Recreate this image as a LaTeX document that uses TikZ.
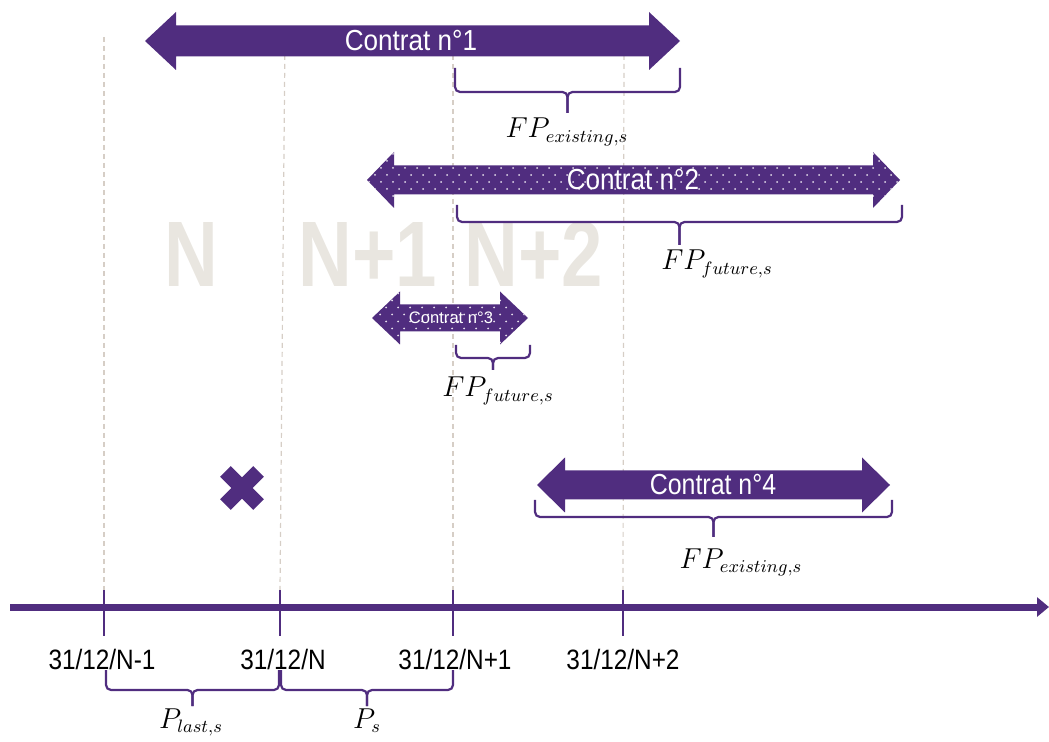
\documentclass[tikz,border=0pt]{standalone}
\usepackage{fontspec}
\setmainfont{Liberation Sans}
\usetikzlibrary{arrows.meta}

\definecolor{ctpurple}{RGB}{80,45,127}
\definecolor{gridgrey}{RGB}{214,206,198}
\definecolor{yeargrey}{RGB}{233,230,224}
\colorlet{dotwhite}{white!85!ctpurple}

% outline of a two-headed bar: x1, x2, y centre, half shaft, half head, head length
\newcommand\barpath[6]{(#1,#3) -- (#1+#6,#3-#5) -- (#1+#6,#3-#4) -- (#2-#6,#3-#4)
  -- (#2-#6,#3-#5) -- (#2,#3) -- (#2-#6,#3+#5) -- (#2-#6,#3+#4)
  -- (#1+#6,#3+#4) -- (#1+#6,#3+#5) -- cycle}

% dotted version of the bar
\newcommand\dottedbar[6]{%
  \fill[ctpurple] \barpath{#1}{#2}{#3}{#4}{#5}{#6};
  \begin{scope}
    \clip \barpath{#1}{#2}{#3}{#4}{#5}{#6};
    \foreach \r in {0,...,9}
      \foreach \c in {0,...,46}
        \fill[dotwhite] ({#1+2+\c*12+6*mod(\r,2)}, {#3-#5+2+\r*7}) circle[radius=0.5pt];
  \end{scope}}

% square bracket with a centre tip: x1, x2, top, line, tip
\newcommand\spanbrace[5]{%
  \draw[bracket] (#1,#3) |- ({(#1+#2)/2},#4) -- ({(#1+#2)/2},#5);
  \draw[bracket] (#2,#3) |- ({(#1+#2)/2},#4) -- ({(#1+#2)/2},#5);}

\tikzset{
  guide/.style={draw=gridgrey, line width=0.6pt, dash pattern=on 2.5pt off 2pt},
  tickmark/.style={draw=ctpurple, line width=1pt},
  bracket/.style={draw=ctpurple, line width=1.1pt, rounded corners=2.5pt},
  barlabel/.style={text=white, font=\fontsize{14.5}{15}\selectfont, inner sep=0pt},
  smallbarlabel/.style={text=white, font=\fontsize{8.3}{9}\selectfont, inner sep=0pt},
  datelabel/.style={font=\fontsize{14}{14}\selectfont, anchor=base, inner sep=0pt},
  mathlabel/.style={font=\fontsize{13.5}{14}\selectfont, anchor=base, inner sep=0pt},
  yearlabel/.style={text=yeargrey, font=\fontsize{46.5}{46}\selectfont\bfseries, anchor=base, inner sep=0pt},
}

\begin{document}
\begin{tikzpicture}[x=0.5pt, y=-0.5pt]
\useasboundingbox (0,0) rectangle (1049,742);

% year boundaries on the time axis
\coordinate (d0) at (104,607);
\coordinate (d1) at (280,607);
\coordinate (d2) at (453,607);
\coordinate (d3) at (623,607);

% dashed guides
\draw[guide] (104,37) -- (104,590);
\draw[guide] (285,37) -- (280,590);
\draw[guide] (453,37) -- (453,590);
\draw[guide] (624,37) -- (623,590);

% year names
\node[yearlabel] (yN)  at (191,287) {\scalebox{0.8}[1]{N}};
\node[yearlabel] (yN1) at (368,287) {\scalebox{0.8}[1]{N+1}};
\node[yearlabel] (yN2) at (534,287) {\scalebox{0.8}[1]{N+2}};

% contract 1
\fill[ctpurple] \barpath{145}{680}{41}{15.5}{29}{31};
\node[barlabel] (c1) at (411,41) {\scalebox{0.9}[1]{Contrat n°1}};
\spanbrace{455}{680}{68}{92}{113}
\node[mathlabel] (fp1) at (567,138) {$FP_{existing,s}$};

% contract 2
\dottedbar{367}{900}{180}{14.5}{28}{27}
\node[barlabel] (c2) at (633,180) {\scalebox{0.9}[1]{Contrat n°2}};
\spanbrace{457}{902}{205}{222}{245}
\node[mathlabel] (fp2) at (717,270) {$FP_{future,s}$};

% contract 3
\dottedbar{372}{528}{318}{13.5}{26.5}{28}
\node[smallbarlabel] (c3) at (451,318) {Contrat n°3};
\spanbrace{456}{530}{345}{358}{370}
\node[mathlabel] (fp3) at (498,397) {$FP_{future,s}$};

% cancelled contract
\begin{scope}[ctpurple]
  \fill[rotate around={45:(242,488)}] (218.5,480.5) rectangle (265.5,495.5);
  \fill[rotate around={-45:(242,488)}] (218.5,480.5) rectangle (265.5,495.5);
\end{scope}

% contract 4
\fill[ctpurple] \barpath{537}{890}{485}{14.5}{27.5}{28};
\node[barlabel] (c4) at (713,485) {\scalebox{0.86}[1]{Contrat n°4}};
\spanbrace{535}{892}{500}{517}{537}
\node[mathlabel] (fp4) at (741,568) {$FP_{existing,s}$};

% time axis
\coordinate (axstart) at (10,607);
\coordinate (axend) at (1049,607);
\draw[ctpurple, line width=3.5pt, -{Triangle[length=6pt, width=9.5pt]}] (axstart) -- (axend);
\foreach \d in {d0,d1,d2,d3}
  \draw[tickmark] ([yshift=8.5pt]\d) -- ([yshift=-14.5pt]\d);

% dates
\node[datelabel] (l0) at (102,669) {\scalebox{0.87}[1]{31/12/N-1}};
\node[datelabel] (l1) at (283,669) {\scalebox{0.87}[1]{31/12/N}};
\node[datelabel] (l2) at (455,669) {\scalebox{0.87}[1]{31/12/N+1}};
\node[datelabel] (l3) at (623,669) {\scalebox{0.87}[1]{31/12/N+2}};

% periods
\spanbrace{106}{279}{670}{690}{706}
\spanbrace{281}{453}{670}{690}{706}
\node[mathlabel] (plast) at (191,728) {$P_{last,s}$};
\node[mathlabel] (ps) at (367,728) {$P_{s}$};
\end{tikzpicture}
\end{document}
